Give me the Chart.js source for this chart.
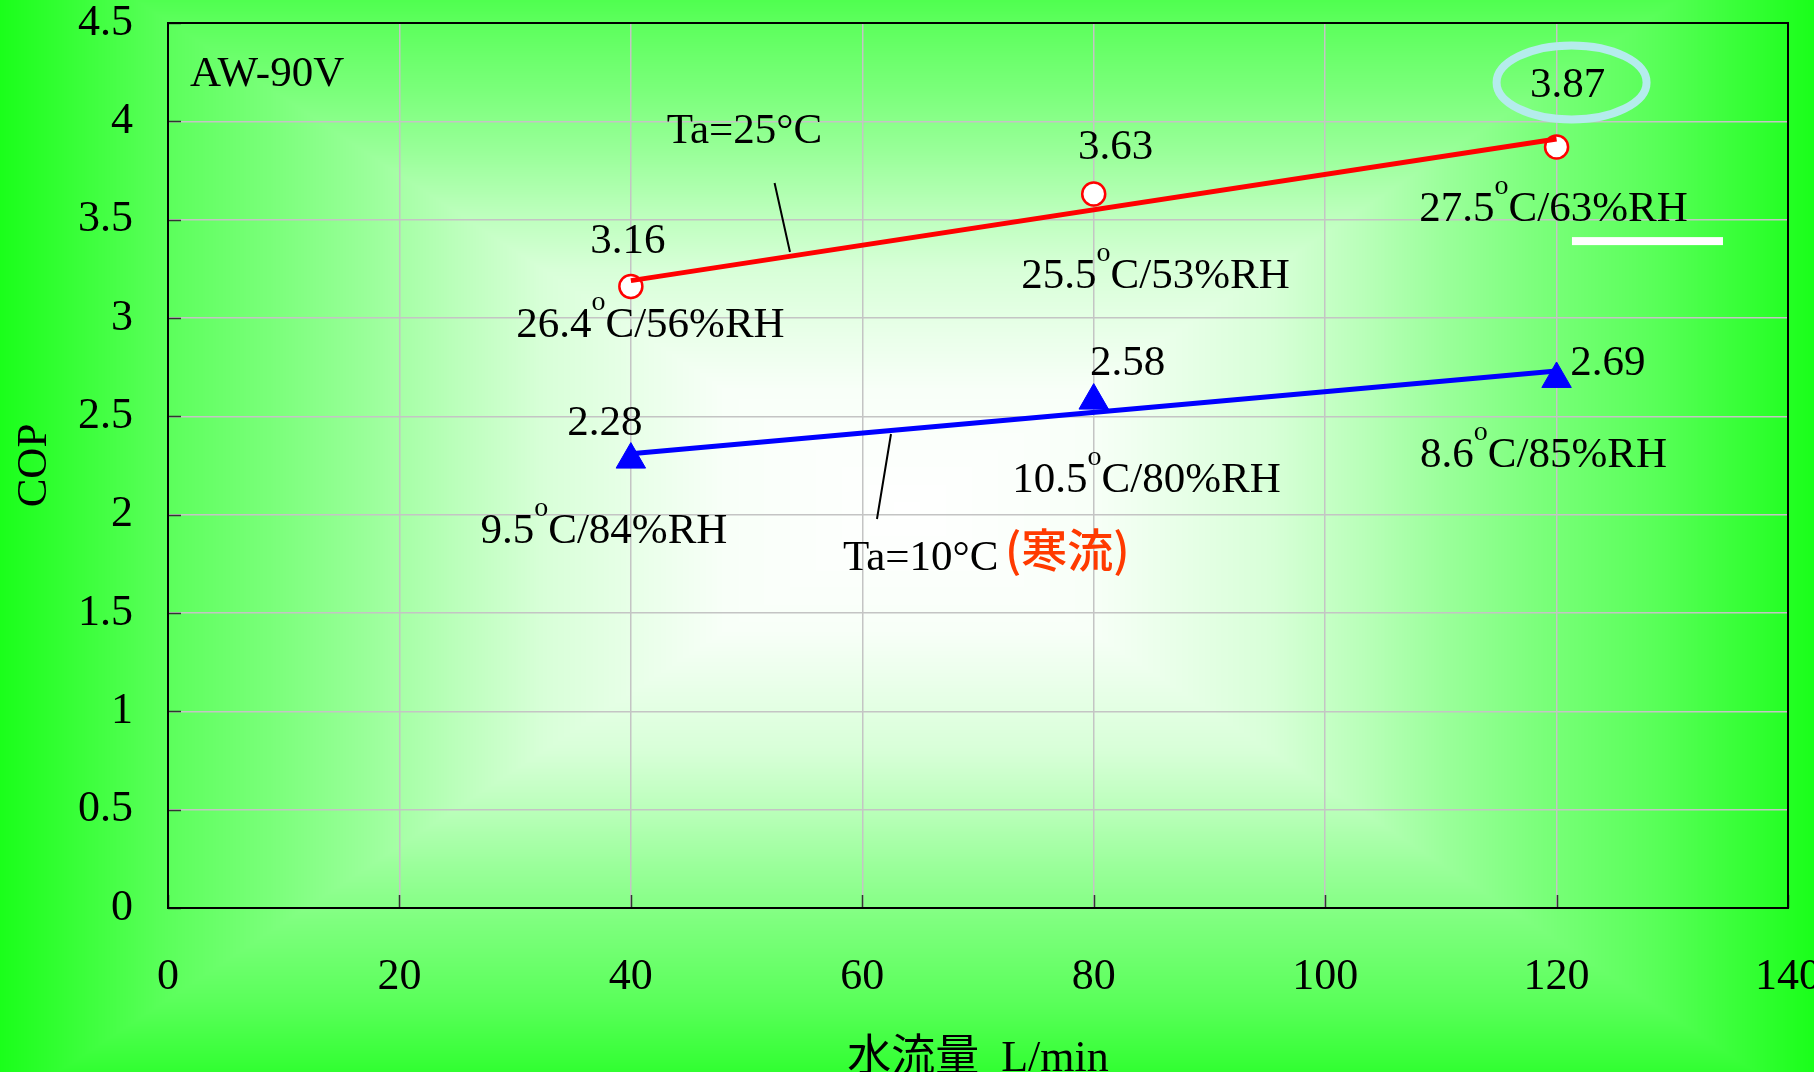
<!DOCTYPE html>
<html>
<head>
<meta charset="utf-8">
<title>AW-90V COP</title>
<script src="https://cdn.jsdelivr.net/npm/chart.js@4/dist/chart.umd.min.js"></script>
<style>
  html, body { margin: 0; padding: 0; background: #22ff22; overflow: hidden; }
  #wrap { width: 1814px; height: 1072px; }
</style>
</head>
<body>
<div id="wrap"><canvas id="cop" width="1814" height="1072"></canvas></div>
<script>
// ---- data ----
const flowRates = [40, 80, 120];                 // 水流量 L/min
const copTa25 = [3.16, 3.63, 3.87];              // COP, Ta=25°C
const copTa10 = [2.28, 2.58, 2.69];              // COP, Ta=10°C (寒流)
const airTempTa25 = ['26.4', '25.5', '27.5'];
const humidityTa25 = [56, 53, 63];
const airTempTa10 = ['9.5', '10.5', '8.6'];
const humidityTa10 = [84, 80, 85];
const trendFlow = [40, 120];
const trendTa25 = [3.19, 3.91];
const trendTa10 = [2.31, 2.73];
const xTicks = [0, 20, 40, 60, 80, 100, 120, 140];
const yTicks = [0, 0.5, 1, 1.5, 2, 2.5, 3, 3.5, 4, 4.5];

// ---- look ----
const SERIF = "'Liberation Serif', 'Times New Roman', serif";
const CJK = "'Liberation Serif', 'Noto Sans CJK JP', sans-serif";
const TXT = 43;

// label placement, pixel offsets from each point
const valueOffsets = {
  ta25: [[-3, -33.5], [22, -35], [11, -50]],
  ta10: [[-26, -24.6], [34, -25.6], [51.4, -4]]
};
const condOffsets = {
  ta25: [[19.6, 50.5], [61.8, 93.9], [-3.1, 74.1]],
  ta10: [[-26.9, 83.4], [52.8, 91.4], [-13.1, 88]]
};

// soft rectangular backdrop: white centre fading to green edges
const shadeStops = [[0, 255], [0.2, 248], [0.4, 216], [0.5, 186], [0.6, 152], [0.7, 122], [0.82, 90], [0.9, 62], [1.0, 26]];
function shadeAt(t) {
  if (t >= 1) return 26;
  for (let i = 1; i < shadeStops.length; i++) {
    if (t <= shadeStops[i][0]) {
      const [t0, v0] = shadeStops[i - 1], [t1, v1] = shadeStops[i];
      return v0 + (v1 - v0) * (t - t0) / (t1 - t0);
    }
  }
  return 26;
}
const backdrop = {
  id: 'backdrop',
  beforeDraw(chart) {
    const { ctx, width, height } = chart;
    const img = ctx.createImageData(width, height);
    const cx = width * 0.5, cy = height * 0.476, hw = width * 0.5, hh = height * 0.56;
    const lut = new Uint8Array(1001);
    for (let i = 0; i <= 1000; i++) lut[i] = Math.round(shadeAt(i / 1000));
    const tx = new Float32Array(width), ty = new Float32Array(height);
    for (let x = 0; x < width; x++) tx[x] = Math.abs(x + 0.5 - cx) / hw;
    for (let y = 0; y < height; y++) ty[y] = Math.abs(y + 0.5 - cy) / hh;
    const d = img.data;
    let k = 0;
    for (let y = 0; y < height; y++) {
      for (let x = 0; x < width; x++) {
        const t = Math.min(1, Math.max(tx[x], ty[y]));
        const v = lut[Math.round(t * 1000)];
        d[k++] = v; d[k++] = 255; d[k++] = v; d[k++] = 255;
      }
    }
    ctx.putImageData(img, 0, 0);
  }
};

// inward tick marks and plot frame
const frame = {
  id: 'frame',
  beforeDatasetsDraw(chart) {
    const { ctx, chartArea: a, scales: { x, y } } = chart;
    ctx.save();
    ctx.strokeStyle = '#333';
    ctx.lineWidth = 1.5;
    ctx.beginPath();
    x.ticks.forEach(t => {
      const px = Math.round(x.getPixelForValue(t.value)) + 0.5;
      ctx.moveTo(px, a.bottom); ctx.lineTo(px, a.bottom - 13);
    });
    y.ticks.forEach(t => {
      const py = Math.round(y.getPixelForValue(t.value)) + 0.5;
      ctx.moveTo(a.left, py); ctx.lineTo(a.left + 13, py);
    });
    ctx.stroke();
    ctx.strokeStyle = '#000';
    ctx.lineWidth = 2;
    ctx.strokeRect(a.left, a.top, a.right - a.left, a.bottom - a.top);
    ctx.restore();
  }
};

function drawRich(ctx, parts, cx, base, align) {
  const sizes = parts.map(p => {
    ctx.font = (p.sup ? 28 : TXT) + 'px ' + SERIF;
    return ctx.measureText(p.t).width;
  });
  const total = sizes.reduce((s, w) => s + w, 0);
  let x = align === 'left' ? cx : cx - total / 2;
  ctx.textAlign = 'left';
  ctx.textBaseline = 'alphabetic';
  parts.forEach((p, i) => {
    ctx.font = (p.sup ? 28 : TXT) + 'px ' + SERIF;
    ctx.fillText(p.t, x, p.sup ? base - 27 : base);
    x += sizes[i];
  });
}

// value tags, condition tags, series names and leaders
const notes = {
  id: 'notes',
  afterDatasetsDraw(chart) {
    const { ctx, scales: { x, y } } = chart;
    const P = (vx, vy) => [x.getPixelForValue(vx), y.getPixelForValue(vy)];
    ctx.save();
    ctx.fillStyle = '#000';

    // highlight ring round the top value
    {
      const [px, py] = P(flowRates[2], copTa25[2]);
      const [ox, oy] = valueOffsets.ta25[2];
      ctx.save();
      ctx.strokeStyle = '#b4ecec';
      ctx.lineWidth = 8;
      ctx.beginPath();
      ctx.ellipse(px + ox + 4, py + oy - 14.5, 75, 37, 0, 0, Math.PI * 2);
      ctx.stroke();
      ctx.restore();
    }

    // white bar
    {
      const [x1, yy] = P(121.33, 3.391);
      const [x2] = P(134.38, 3.391);
      ctx.fillStyle = '#ffffff';
      ctx.fillRect(x1, yy - 4, x2 - x1, 8);
      ctx.fillStyle = '#000';
    }

    const groups = [
      { vals: copTa25, temps: airTempTa25, rh: humidityTa25, vo: valueOffsets.ta25, co: condOffsets.ta25 },
      { vals: copTa10, temps: airTempTa10, rh: humidityTa10, vo: valueOffsets.ta10, co: condOffsets.ta10 }
    ];
    groups.forEach(g => {
      flowRates.forEach((f, i) => {
        const [px, py] = P(f, g.vals[i]);
        drawRich(ctx, [{ t: g.vals[i].toFixed(2) }], px + g.vo[i][0], py + g.vo[i][1], 'center');
        drawRich(ctx, [{ t: g.temps[i] }, { t: 'o', sup: true }, { t: 'C/' + g.rh[i] + '%RH' }],
                 px + g.co[i][0], py + g.co[i][1], 'center');
      });
    });

    // model name
    {
      const [px, py] = P(1.9, 4.18);
      drawRich(ctx, [{ t: 'AW-90V' }], px, py, 'left');
    }

    // series names
    {
      const [px, py] = P(43.1, 3.89);
      drawRich(ctx, [{ t: 'Ta=25°C' }], px, py, 'left');
      const [qx, qy] = P(58.33, 1.719);
      drawRich(ctx, [{ t: 'Ta=10°C' }], qx, qy, 'left');
      const [rx, ry] = P(72.33, 1.734);
      ctx.font = '500 46px ' + "'Noto Sans CJK JP', sans-serif";
      ctx.fillStyle = '#ff3a00';
      ctx.textAlign = 'left';
      ctx.fillText('(寒流)', rx, ry);
    }

    // leader lines
    ctx.strokeStyle = '#000';
    ctx.lineWidth = 2;
    ctx.beginPath();
    [[[52.42, 3.686], [53.75, 3.336]], [[62.48, 2.41], [61.27, 1.978]]].forEach(([a, b]) => {
      const [ax, ay] = P(a[0], a[1]);
      const [bx, by] = P(b[0], b[1]);
      ctx.moveTo(ax, ay); ctx.lineTo(bx, by);
    });
    ctx.stroke();
    ctx.restore();
  }
};

const pts = (xs, ys) => xs.map((v, i) => ({ x: v, y: ys[i] }));

new Chart(document.getElementById('cop'), {
  type: 'scatter',
  data: {
    datasets: [
      { label: 'Ta=25°C trend', data: pts(trendFlow, trendTa25), showLine: true,
        borderColor: '#ff0000', borderWidth: 5, pointRadius: 0, order: 0 },
      { label: 'Ta=10°C trend', data: pts(trendFlow, trendTa10), showLine: true,
        borderColor: '#0000ff', borderWidth: 5, pointRadius: 0, order: 0 },
      { label: 'Ta=25°C', data: pts(flowRates, copTa25), showLine: false, pointStyle: 'circle',
        pointRadius: 11.5, pointBackgroundColor: '#ffffff', pointBorderColor: '#ff0000',
        pointBorderWidth: 2.5, order: 1 },
      { label: 'Ta=10°C', data: pts(flowRates, copTa10), showLine: false, pointStyle: 'triangle',
        pointRadius: 17, pointBackgroundColor: '#0000ff', pointBorderColor: '#0000ff',
        pointBorderWidth: 1, order: 1 }
    ]
  },
  options: {
    responsive: false,
    animation: false,
    devicePixelRatio: 1,
    layout: { padding: { top: 23, right: 26, left: 0, bottom: 0 } },
    plugins: { legend: { display: false }, tooltip: { enabled: false } },
    scales: {
      x: {
        type: 'linear', min: 0, max: 140,
        afterBuildTicks: s => { s.ticks = xTicks.map(v => ({ value: v })); },
        ticks: { color: '#000', font: { family: SERIF, size: 44 }, padding: 43, maxRotation: 0,
                 autoSkip: false, callback: v => String(v) },
        grid: { color: '#c4c4c4', lineWidth: 1.5, drawTicks: false },
        border: { display: false },
        title: { display: true, text: '水流量  L/min', color: '#000',
                 font: { family: CJK, size: 44 }, padding: { top: 0, bottom: -14 } },
        afterFit: s => { s.height = 164; s.paddingLeft = 0; s.paddingRight = 0; }
      },
      y: {
        type: 'linear', min: 0, max: 4.5,
        afterBuildTicks: s => { s.ticks = yTicks.map(v => ({ value: v })); },
        ticks: { color: '#000', font: { family: SERIF, size: 44 }, padding: 35, autoSkip: false,
                 callback: v => String(v) },
        grid: { color: '#c4c4c4', lineWidth: 1.5, drawTicks: false },
        border: { display: false },
        title: { display: true, text: 'COP', color: '#000',
                 font: { family: SERIF, size: TXT }, padding: { top: 9, bottom: 0 } },
        afterFit: s => { s.width = 168; s.paddingTop = 0; s.paddingBottom = 0; }
      }
    }
  },
  plugins: [backdrop, frame, notes]
});
</script>
</body>
</html>
